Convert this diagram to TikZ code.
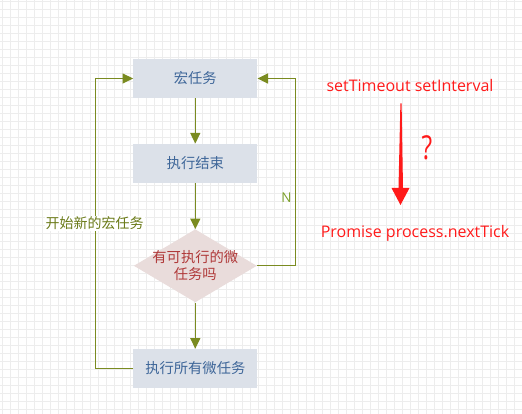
\documentclass[tikz,border=0pt]{standalone}
\usepackage{fontspec}
\setmainfont{Noto Sans CJK SC}
\newfontfamily\latfont{Open Sans}
\usetikzlibrary{arrows.meta,shapes.geometric}
\definecolor{gridc}{HTML}{EDEDED}
\definecolor{boxfill}{HTML}{DCE1E9}
\definecolor{boxtext}{HTML}{3E6699}
\definecolor{diafill}{HTML}{E9DCDB}
\definecolor{diatext}{HTML}{B03A3A}
\definecolor{olive}{HTML}{7A8B20}
\definecolor{olivetext}{HTML}{6A7A18}
\definecolor{ntext}{HTML}{7DA02C}
\definecolor{redc}{HTML}{FF1A1A}
\tikzset{
  proc/.style={rectangle, fill=boxfill, text=boxtext, minimum width=124pt, minimum height=39pt, inner sep=0pt, font=\fontsize{14.3}{17}\selectfont},
  dia/.style={diamond, fill=diafill, minimum width=123pt, minimum height=73pt, inner sep=0pt},
  diatxt/.style={text=diatext, align=center, font=\fontsize{14.3}{17.5}\selectfont, inner sep=0pt},
  conn/.style={draw=olive, line width=1.2pt, -{Triangle[length=10.5pt,width=10pt]}},
  redtxt/.style={text=redc, inner sep=0pt, font=\latfont\fontsize{16}{19}\selectfont},
}
\begin{document}
\begin{tikzpicture}[x=1pt,y=-1pt]
\useasboundingbox (0,0) rectangle (522,414);
% grid
\foreach \i in {0,...,65} {\draw[gridc, line width=1pt] (2.7+8*\i,0) -- (2.7+8*\i,414);}
\foreach \j in {0,...,51} {\draw[gridc, line width=1pt] (0,1.3+8*\j) -- (522,1.3+8*\j);}
% nodes
\node[proc] (m1) at (195.3,78.5) {宏任务};
\node[proc] (m2) at (195.3,163.2) {执行结束};
\node[dia] (d) at (195.3,265.8) {};
\node[diatxt] (dt) at (195.3,265.5) {有可执行的微\\任务吗};
\node[proc] (m3) at (195.3,368.4) {执行所有微任务};
% connectors
\draw[conn] (m1) -- (m2);
\draw[conn] (m2) -- (d.north);
\draw[conn] (d.south) -- (m3);
\draw[conn] (m3.west) -- ++(-37.6,0) |- (m1.west);
\draw[conn] (d.east) -- ++(38.6,0) |- (m1.east);
\node[fill=white, text=olivetext, inner sep=1pt, font=\fontsize{14}{16}\selectfont] (lbl) at (94.5,223.3) {开始新的宏任务};
\node[text=ntext, inner sep=0pt, font=\latfont\fontsize{13.5}{15}\selectfont] (nl) at (286.5,198) {N};
% red annotation
\node[redtxt] (t1) at (410,85.7) {setTimeout setInterval};
\node[redtxt] (t2) at (415,233.3) {Promise process.nextTick};
\node[text=redc, inner sep=0pt, xscale=0.75, font=\latfont\fontsize{33}{36}\selectfont] (q) at (427,148) {?};
\coordinate (atop) at (401,103.3);
\coordinate (atip) at (400.5,205);
\fill[redc] ([xshift=-0.6pt]atop) -- ([xshift=0.6pt]atop) -- (403,188) -- (409.5,188) -- (atip) -- (391.5,188) -- (398.5,188) -- cycle;
\end{tikzpicture}
\end{document}
